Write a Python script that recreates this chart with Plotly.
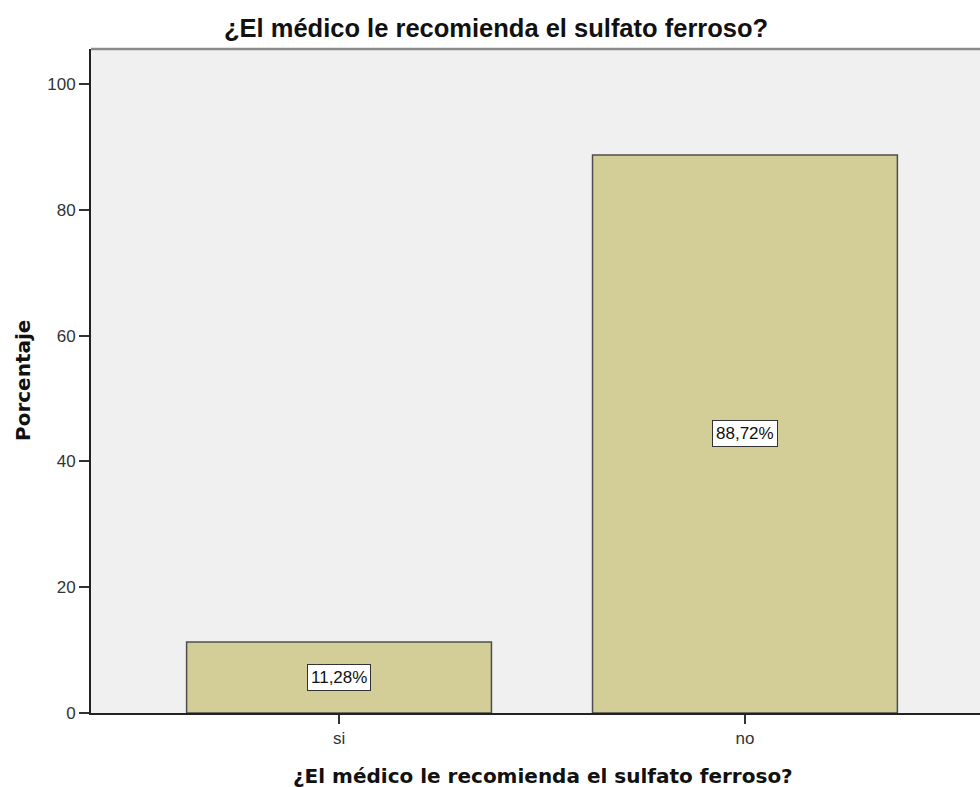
import plotly.graph_objects as go

categories = ["si", "no"]
percentages = [11.28, 88.72]
value_labels = ["11,28%", "88,72%"]
y_ticks = [0, 20, 40, 60, 80, 100]
title_text = "¿El médico le recomienda el sulfato ferroso?"
y_title = "Porcentaje"

L, T, W, H = 91, 49, 980, 787
B = H - 713
PW = W - L

fig = go.Figure()
fig.add_trace(go.Bar(
    x=categories, y=percentages, width=0.751,
    marker=dict(color="#D3CE97", line=dict(color="#4d4d4d", width=1.5)),
    hoverinfo="skip", showlegend=False,
))

for c, v, lab in zip(categories, percentages, value_labels):
    fig.add_annotation(
        x=c, y=v / 2, text=lab, showarrow=False,
        font=dict(family="Liberation Sans, Arial", size=17, color="#111"),
        bgcolor="white", bordercolor="#333", borderwidth=1, borderpad=3,
    )

fig.add_annotation(xref="paper", yref="paper", x=(496 - L) / PW, y=1, yshift=21,
                   xanchor="center", yanchor="middle", text="<b>" + title_text + "</b>",
                   showarrow=False,
                   font=dict(family="Liberation Sans, Arial", size=25.5, color="#111"))
fig.add_annotation(xref="paper", yref="paper", x=(543 - L) / PW, y=0, yshift=-63,
                   xanchor="center", yanchor="middle", text="<b>" + title_text + "</b>",
                   showarrow=False,
                   font=dict(family="DejaVu Sans", size=20, color="#111"))
fig.add_annotation(xref="paper", yref="paper", x=0, xshift=-(L - 23),
                   y=(713 - 381) / (713 - T),
                   xanchor="center", yanchor="middle", textangle=-90,
                   text="<b>" + y_title + "</b>", showarrow=False,
                   font=dict(family="DejaVu Sans", size=20, color="#111"))

fig.add_shape(type="line", xref="paper", yref="paper", x0=0, x1=1, y0=1, y1=1,
              line=dict(color="#8a8a8a", width=2.5))

fig.update_layout(
    width=W, height=H,
    margin=dict(l=L, r=0, t=T, b=B),
    paper_bgcolor="white", plot_bgcolor="#F0F0F0",
    font=dict(family="Liberation Sans, Arial", size=17, color="#333"),
    xaxis=dict(type="category", range=[-0.611, 1.579], showgrid=False,
               showline=True, linecolor="#222", linewidth=2,
               ticks="outside", ticklen=9, tickcolor="#333", tickwidth=2,
               tickfont=dict(size=17), zeroline=False),
    yaxis=dict(range=[0, 105.56], tickvals=y_ticks, showgrid=False,
               showline=True, linecolor="#222", linewidth=2,
               ticks="outside", ticklen=10, tickcolor="#333", tickwidth=2,
               tickfont=dict(size=17), zeroline=False),
)

fig.write_html("out.html", config={"displayModeBar": False},
               post_script="document.body.style.margin='0';")
